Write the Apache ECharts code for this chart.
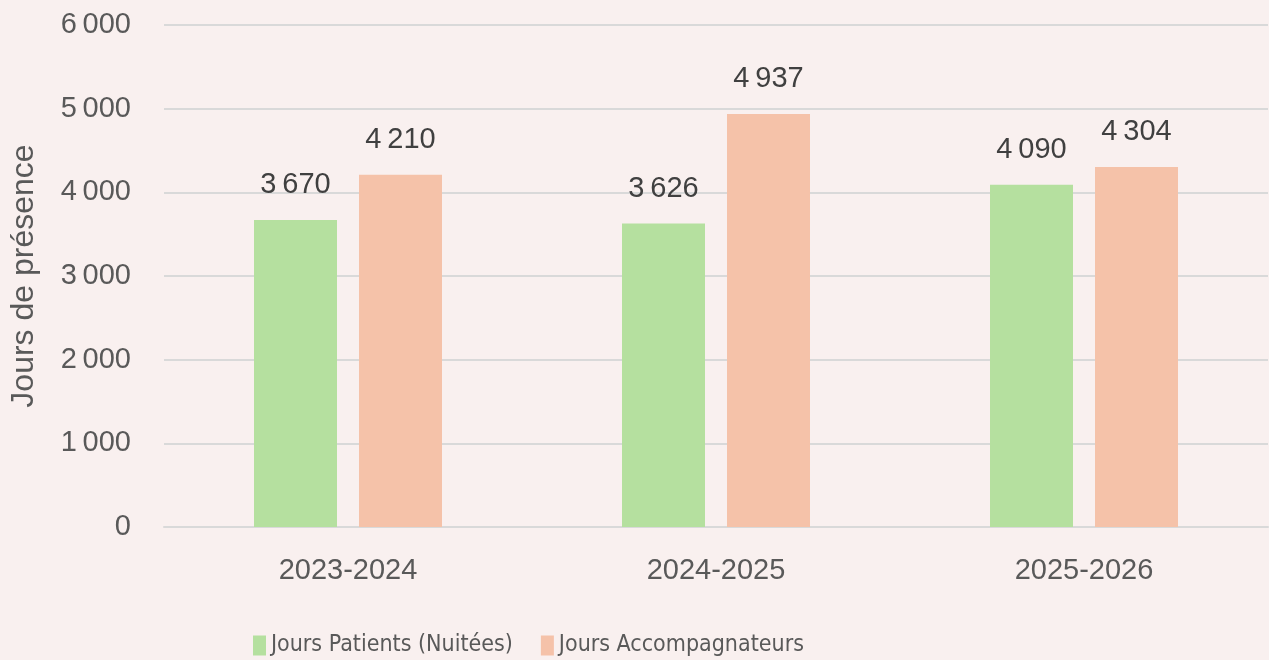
<!DOCTYPE html>
<html>
<head>
<meta charset="utf-8">
<script src="https://cdn.jsdelivr.net/npm/echarts@6/dist/echarts.min.js"></script>
<style>
  html, body { margin: 0; padding: 0; background: #f9f0ef; }
  #chart { width: 1269px; height: 660px; }
</style>
</head>
<body>
<div id="chart"></div>
<script>
// données du graphique
const saisons = ['2023-2024', '2024-2025', '2025-2026'];
const joursPatients = [3670, 3626, 4090];
const joursAccompagnateurs = [4210, 4937, 4304];
const seriesNames = ['Jours Patients (Nuitées)', 'Jours Accompagnateurs'];

// séparateur de milliers (espace fine)
function fmt(v) {
    return String(v).replace(/\B(?=(\d{3})+(?!\d))/g, '\u2009');
}

const chart = echarts.init(document.getElementById('chart'));
const labelStyle = {
    show: true,
    position: 'top',
    distance: 20,
    color: '#404040',
    fontSize: 29,
    fontFamily: 'Liberation Sans, Arial, sans-serif',
    formatter: p => fmt(p.value)
};
const option = {
    backgroundColor: '#f9f0ef',
    animation: false,
    grid: { left: 163, right: 1, top: 25, bottom: 133 },
    legend: {
        left: 253,
        top: 634,
        padding: 0,
        itemWidth: 13,
        itemHeight: 20,
        itemGap: 28,
        icon: 'rect',
        textStyle: {
            color: '#595959',
            fontSize: 23,
            fontFamily: 'DejaVu Sans Condensed, Liberation Sans Narrow, Arial Narrow, sans-serif'
        },
        data: seriesNames
    },
    xAxis: {
        type: 'category',
        data: saisons,
        axisLine: { show: true, lineStyle: { color: '#d9d9d9', width: 2 } },
        axisTick: { show: false },
        axisLabel: {
            margin: 29,
            color: '#595959',
            fontSize: 29,
            fontFamily: 'Liberation Sans, Arial, sans-serif'
        }
    },
    yAxis: {
        type: 'value',
        min: 0,
        max: 6000,
        interval: 1000,
        name: 'Jours de présence',
        nameLocation: 'middle',
        nameGap: 124,
        nameTextStyle: {
            color: '#595959',
            fontSize: 32,
            fontFamily: 'Liberation Sans, Arial, sans-serif'
        },
        axisLine: { show: false },
        axisTick: { show: false },
        splitLine: { lineStyle: { color: '#d9d9d9', width: 2 } },
        axisLabel: {
            margin: 33,
            color: '#595959',
            fontSize: 29,
            fontFamily: 'Liberation Sans, Arial, sans-serif',
            formatter: v => fmt(v)
        }
    },
    series: [
        {
            name: seriesNames[0],
            type: 'bar',
            data: joursPatients,
            barWidth: 83,
            barGap: '26.5%',
            itemStyle: { color: '#b5e09f' },
            label: labelStyle
        },
        {
            name: seriesNames[1],
            type: 'bar',
            data: joursAccompagnateurs,
            barWidth: 83,
            barGap: '26.5%',
            itemStyle: { color: '#f5c2a9' },
            label: labelStyle
        }
    ]
};
chart.setOption(option);
</script>
</body>
</html>
